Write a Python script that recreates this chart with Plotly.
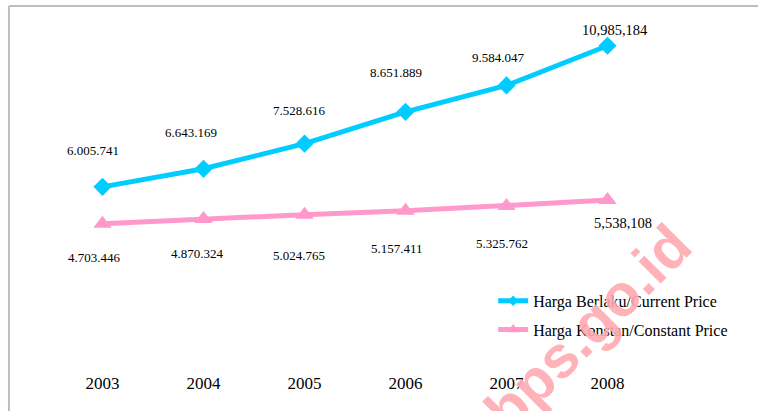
import plotly.graph_objects as go

years = ["2003", "2004", "2005", "2006", "2007", "2008"]
current_price = [6005741, 6643169, 7528616, 8651889, 9584047, 10985184]
constant_price = [4703446, 4870324, 5024765, 5157411, 5325762, 5538108]
current_labels = ["6.005.741", "6.643.169", "7.528.616", "8.651.889", "9.584.047", "10,985,184"]
constant_labels = ["4.703.446", "4.870.324", "5.024.765", "5.157.411", "5.325.762", "5,538,108"]
series_names = ["Harga Berlaku/Current Price", "Harga Konstan/Constant Price"]

# label placement styling (pixel offsets)
cur_xshift = [-10, -13, -5, -10, -8, 7]
cur_yshift = [36, 36, 33, 39, 28, 16]
con_xshift = [-8, -6, -6, -9, -5, 15]
con_yshift = [-34, -34, -41, -38, -37, -23]
cur_fs = [13, 13, 13, 13, 13, 14.5]
con_fs = [13, 13, 13, 13, 13, 14.5]

BLUE = "#00CCFF"
PINK = "#FF99CC"
SERIF = "Liberation Serif, Times New Roman, serif"

x = list(range(len(years)))

fig = go.Figure()
fig.add_trace(go.Scatter(
    x=x, y=current_price, mode="lines+markers", name=series_names[0],
    line=dict(color=BLUE, width=5),
    marker=dict(symbol="diamond", size=14, color=BLUE),
    showlegend=False,
))
fig.add_trace(go.Scatter(
    x=x, y=constant_price, mode="lines+markers", name=series_names[1],
    line=dict(color=PINK, width=5),
    marker=dict(symbol="triangle-up", size=16, color=PINK),
    showlegend=False,
))
# legend entries (smaller legend markers)
fig.add_trace(go.Scatter(
    x=[None], y=[None], mode="lines+markers", name=series_names[0],
    line=dict(color=BLUE, width=5),
    marker=dict(symbol="diamond", size=8, color=BLUE),
    legendgroup="a",
))
fig.add_trace(go.Scatter(
    x=[None], y=[None], mode="lines+markers", name=series_names[1],
    line=dict(color=PINK, width=5),
    marker=dict(symbol="triangle-up", size=11, color=PINK),
    legendgroup="b",
))

anns = []
for i in x:
    anns.append(dict(x=i, y=current_price[i], text=current_labels[i], showarrow=False,
                     xshift=cur_xshift[i], yshift=cur_yshift[i],
                     font=dict(family=SERIF, size=cur_fs[i], color="black")))
    anns.append(dict(x=i, y=constant_price[i], text=constant_labels[i], showarrow=False,
                     xshift=con_xshift[i], yshift=con_yshift[i],
                     font=dict(family=SERIF, size=con_fs[i], color="black")))

# watermark
anns.append(dict(x=(588 - 52) / 606, y=(357 - 328) / 340, xref="paper", yref="paper",
                 text="<b>bps.go.id</b>",
                 showarrow=False, textangle=-45, xanchor="center", yanchor="middle",
                 font=dict(family="Liberation Sans, Arial, sans-serif", size=59,
                           color="rgba(255,170,176,0.9)")))

fig.update_layout(
    width=758, height=411,
    margin=dict(l=52, r=100, t=17, b=54),
    paper_bgcolor="white", plot_bgcolor="white",
    showlegend=True,
    legend=dict(x=0.728, y=0.215, xanchor="left", yanchor="top",
                font=dict(family=SERIF, size=16, color="black"),
                bgcolor="rgba(0,0,0,0)", tracegroupgap=5, traceorder="grouped",
                itemsizing="trace"),
    annotations=anns,
    shapes=[
        dict(type="line", xref="paper", yref="paper", x0=-0.071, x1=1.2, y0=1.032, y1=1.032,
             line=dict(color="#BDBDBD", width=2)),
        dict(type="line", xref="paper", yref="paper", x0=-0.071, x1=-0.071, y0=1.032, y1=-0.2,
             line=dict(color="#BDBDBD", width=2)),
    ],
)
fig.update_xaxes(range=[-0.5, 5.5], tickmode="array", tickvals=x, ticktext=years,
                 showgrid=False, zeroline=False, showline=False, ticks="",
                 tickfont=dict(family=SERIF, size=17, color="black"), ticklabelstandoff=14)
fig.update_yaxes(range=[0, 12000000], showgrid=False, zeroline=False, showline=False,
                 showticklabels=False, ticks="")

fig.write_html("out.html", config={"displayModeBar": False},
               post_script="document.body.style.margin='0px';")
